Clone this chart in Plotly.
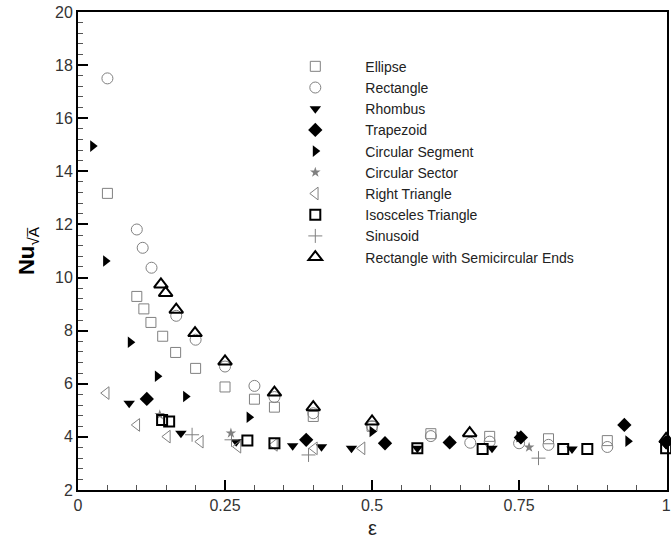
import plotly.graph_objects as go

# ---------------- data ----------------
ellipse_x = [0.05, 0.10, 0.112, 0.124, 0.144, 0.166, 0.20, 0.25, 0.30, 0.334, 0.40, 0.50, 0.60, 0.70, 0.80, 0.90]
ellipse_y = [13.17, 9.29, 8.82, 8.31, 7.79, 7.18, 6.58, 5.88, 5.42, 5.12, 4.77, 4.40, 4.12, 4.02, 3.93, 3.86]

rect_x = [0.05, 0.10, 0.11, 0.125, 0.167, 0.20, 0.25, 0.30, 0.334, 0.40, 0.50, 0.60, 0.667, 0.70, 0.75, 0.80, 0.90]
rect_y = [17.5, 11.81, 11.12, 10.37, 8.56, 7.66, 6.65, 5.92, 5.50, 4.89, 4.40, 4.03, 3.78, 3.82, 3.76, 3.70, 3.62]

rhombus_x = [0.087, 0.175, 0.269, 0.365, 0.414, 0.465, 0.577, 0.704, 0.84, 1.0]
rhombus_y = [5.27, 4.14, 3.82, 3.67, 3.63, 3.57, 3.57, 3.57, 3.54, 3.70]

trap_x = [0.117, 0.388, 0.522, 0.632, 0.753, 0.929, 1.0]
trap_y = [5.43, 3.89, 3.76, 3.79, 3.98, 4.45, 3.80]

cseg_x = [0.025, 0.047, 0.089, 0.135, 0.183, 0.291, 0.50, 0.75, 0.935]
cseg_y = [14.95, 10.62, 7.56, 6.28, 5.52, 4.74, 4.20, 4.01, 3.84]

csec_x = [0.139, 0.26, 0.767]
csec_y = [4.83, 4.14, 3.61]

rtri_x = [0.048, 0.10, 0.152, 0.208, 0.272, 0.334, 0.402, 0.483]
rtri_y = [5.65, 4.45, 4.01, 3.82, 3.63, 3.70, 3.57, 3.57]

iso_x = [0.143, 0.155, 0.288, 0.334, 0.577, 0.688, 0.825, 0.866, 1.0]
iso_y = [4.64, 4.58, 3.86, 3.76, 3.57, 3.54, 3.54, 3.54, 3.57]

sin_x = [0.194, 0.261, 0.392, 0.783]
sin_y = [4.08, 3.89, 3.32, 3.20]

rse_x = [0.141, 0.149, 0.167, 0.199, 0.25, 0.334, 0.40, 0.50, 0.666, 1.0]
rse_y = [9.74, 9.42, 8.79, 7.91, 6.84, 5.67, 5.12, 4.58, 4.14, 3.92]

x_tickvals = [0, 0.25, 0.5, 0.75, 1]
x_ticktext = ["0", "0.25", "0.5", "0.75", "1"]
y_tickvals = [2, 4, 6, 8, 10, 12, 14, 16, 18, 20]

GRAY = "#808080"

series = [
    ("Ellipse", ellipse_x, ellipse_y, "square-open", 10, GRAY, 1),
    ("Rectangle", rect_x, rect_y, "circle-open", 11, GRAY, 1),
    ("Rhombus", rhombus_x, rhombus_y, "triangle-down", 10, "black", 0),
    ("Trapezoid", trap_x, trap_y, "diamond", 11, "black", 0),
    ("Circular Segment", cseg_x, cseg_y, "triangle-right", 10, "black", 0),
    ("Circular Sector", csec_x, csec_y, "star", 8, GRAY, 0),
    ("Right Triangle", rtri_x, rtri_y, "triangle-left-open", 11, GRAY, 1),
    ("Isosceles Triangle", iso_x, iso_y, "square-open", 10, "black", 2),
    ("Sinusoid", sin_x, sin_y, "cross-thin-open", 10, GRAY, 1),
    ("Rectangle with Semicircular Ends", rse_x, rse_y, "triangle-up-open", 12, "black", 2),
]

fig = go.Figure()
for name, xs, ys, sym, size, color, lw in series:
    fig.add_trace(go.Scatter(
        x=xs, y=ys, mode="markers", name=name,
        marker=dict(symbol=sym, size=size, color=color,
                    line=dict(color=color, width=lw)),
        cliponaxis=False,
    ))

axis_font = dict(family="Liberation Sans, Arial", size=16, color="#333333")

fig.update_layout(
    width=671, height=542,
    margin=dict(l=78, r=0, t=12, b=52),
    paper_bgcolor="white", plot_bgcolor="white",
    showlegend=True,
    legend=dict(
        x=0.318, y=0.919, xanchor="left", yanchor="top",
        bgcolor="rgba(0,0,0,0)", borderwidth=0,
        font=dict(family="Liberation Sans, Arial", size=14, color="#222222"),
        itemwidth=90, tracegroupgap=0,
    ),
    xaxis=dict(
        range=[0, 1.0015], tickvals=x_tickvals, ticktext=x_ticktext,
        ticklabeloverflow="allow",
        showgrid=False, zeroline=False,
        showline=True, linecolor="black", linewidth=2, mirror=True,
        ticks="inside", ticklen=10, tickwidth=2, tickcolor="black",
        minor=dict(dtick=0.05, ticks="inside", ticklen=5, tickwidth=1, tickcolor="#555555"),
        tickfont=axis_font,
        title=dict(text="ε", font=dict(family="Liberation Sans, Arial", size=20, color="#222222"), standoff=8),
    ),
    yaxis=dict(
        range=[2, 20], tickvals=y_tickvals,
        showgrid=False, zeroline=False,
        showline=True, linecolor="black", linewidth=2, mirror=True,
        ticks="inside", ticklen=10, tickwidth=2, tickcolor="black",
        minor=dict(dtick=0.4, ticks="inside", ticklen=5, tickwidth=1, tickcolor="#555555"),
        tickfont=axis_font,
        title=dict(text="<b>Nu</b><sub>√A̅</sub>", font=dict(family="Liberation Sans, Arial", size=22, color="black"), standoff=14),
    ),
)

fig.write_html("out.html")
